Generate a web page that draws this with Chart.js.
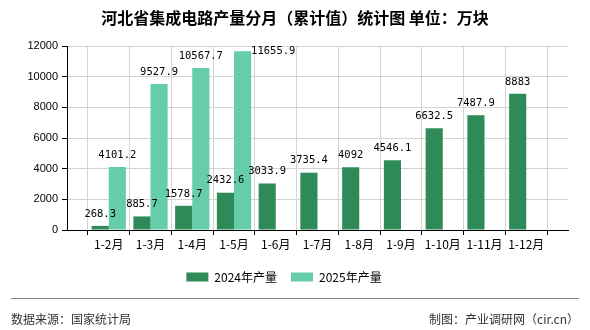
<!DOCTYPE html>
<html>
<head>
<meta charset="utf-8">
<script src="https://cdn.jsdelivr.net/npm/chart.js@4/dist/chart.umd.min.js"></script>
<style>
  html, body { margin: 0; padding: 0; background: #fff; }
  #wrap { width: 590px; height: 330px; position: relative; }
</style>
</head>
<body>
<div id="wrap"><canvas id="bar-chart" width="590" height="330"></canvas></div>
<script>
// categories with an empty slot at each end, like the original axis
const labels = ['', '1-2月', '1-3月', '1-4月', '1-5月', '1-6月', '1-7月', '1-8月', '1-9月', '1-10月', '1-11月', '1-12月', '']
const values2024 = [null, 268.3, 885.7, 1578.7, 2432.6, 3033.9, 3735.4, 4092, 4546.1, 6632.5, 7487.9, 8883, null]
const values2025 = [null, 4101.2, 9527.9, 10567.7, 11655.9, null, null, null, null, null, null, null, null]
const seriesNames = ['2024年产量', '2025年产量']
const plotColors = ['#2e8b57', '#66cdaa']

const titleText = '河北省集成电路产量分月（累计值）统计图 单位：万块'
const sourceText = '数据来源：国家统计局'
const makerText = '制图：产业调研网（cir.cn）'

const cjkFont = '"Noto Sans CJK SC", "Noto Sans", sans-serif'

// value labels above bars, pushed beside the bar when there is no room on top
const valueLabels = {
  id: 'valueLabels',
  afterDatasetsDraw (chart) {
    const ctx = chart.ctx
    const top = chart.chartArea.top
    ctx.save()
    ctx.font = '10.5px "DejaVu Sans Mono", monospace'
    ctx.fillStyle = '#000'
    ctx.textBaseline = 'middle'
    ctx.textAlign = 'center'
    chart.data.datasets.forEach(function (ds, di) {
      const meta = chart.getDatasetMeta(di)
      meta.data.forEach(function (bar, i) {
        const v = ds.data[i]
        if (v == null) return
        const text = String(v)
        const w = ctx.measureText(text).width
        let x = bar.x
        let y = bar.y - 12
        if (y - 6 < top) {
          x = bar.x + bar.width / 2 + w / 2
          y = bar.y
        }
        ctx.fillText(text, x, y)
      })
    })
    ctx.restore()
  },
}

// title and footer
const frameText = {
  id: 'frameText',
  afterDraw (chart) {
    const ctx = chart.ctx
    const w = chart.width
    ctx.save()
    ctx.fillStyle = '#000'
    ctx.font = 'bold 16px ' + cjkFont
    ctx.textAlign = 'center'
    ctx.textBaseline = 'middle'
    ctx.fillText(titleText, w / 2, 18)

    ctx.strokeStyle = '#888'
    ctx.lineWidth = 1
    ctx.beginPath()
    ctx.moveTo(11, 298.5)
    ctx.lineTo(w - 11, 298.5)
    ctx.stroke()

    ctx.fillStyle = '#333'
    ctx.font = '12px ' + cjkFont
    ctx.textAlign = 'left'
    ctx.fillText(sourceText, 11, 319)
    ctx.textAlign = 'right'
    ctx.fillText(makerText, w - 11, 319)
    ctx.restore()
  },
}

const config = {
  type: 'bar',
  data: {
    labels: labels,
    datasets: [
      {
        label: seriesNames[0],
        data: values2024,
        backgroundColor: plotColors[0],
        categoryPercentage: 0.82,
        barPercentage: 1,
      },
      {
        label: seriesNames[1],
        data: values2025,
        backgroundColor: plotColors[1],
        categoryPercentage: 0.82,
        barPercentage: 1,
      },
    ],
  },
  options: {
    responsive: false,
    animation: false,
    layout: {
      padding: { left: 0, right: 22, top: 46, bottom: 37 },
    },
    scales: {
      x: {
        offset: false,
        grid: {
          color: '#d3d3d3',
          tickColor: '#000',
          tickLength: 5,
        },
        border: { color: '#000' },
        ticks: {
          color: '#000',
          font: { family: cjkFont, size: 12 },
          padding: 2,
          autoSkip: false,
          maxRotation: 0,
        },
        afterFit (scale) {
          scale.height = 27
        },
      },
      y: {
        min: 0,
        max: 12000,
        grid: {
          color: '#d3d3d3',
          tickColor: '#000',
          tickLength: 5,
        },
        border: { color: '#000' },
        ticks: {
          stepSize: 2000,
          color: '#000',
          padding: 4,
          font: { family: '"Liberation Sans", Arial, sans-serif', size: 11 },
          callback: function (value) {
            return String(value)
          },
        },
        afterFit (scale) {
          scale.width = 67
        },
      },
    },
    plugins: {
      title: { display: false },
      tooltip: { enabled: false },
      legend: {
        display: true,
        position: 'bottom',
        labels: {
          boxWidth: 22,
          boxHeight: 9,
          padding: 14,
          color: '#000',
          font: { family: cjkFont, size: 12 },
        },
      },
    },
  },
  plugins: [valueLabels, frameText],
}

const ctx = document.getElementById('bar-chart').getContext('2d')
const myChart = new Chart(ctx, config)
</script>
</body>
</html>
